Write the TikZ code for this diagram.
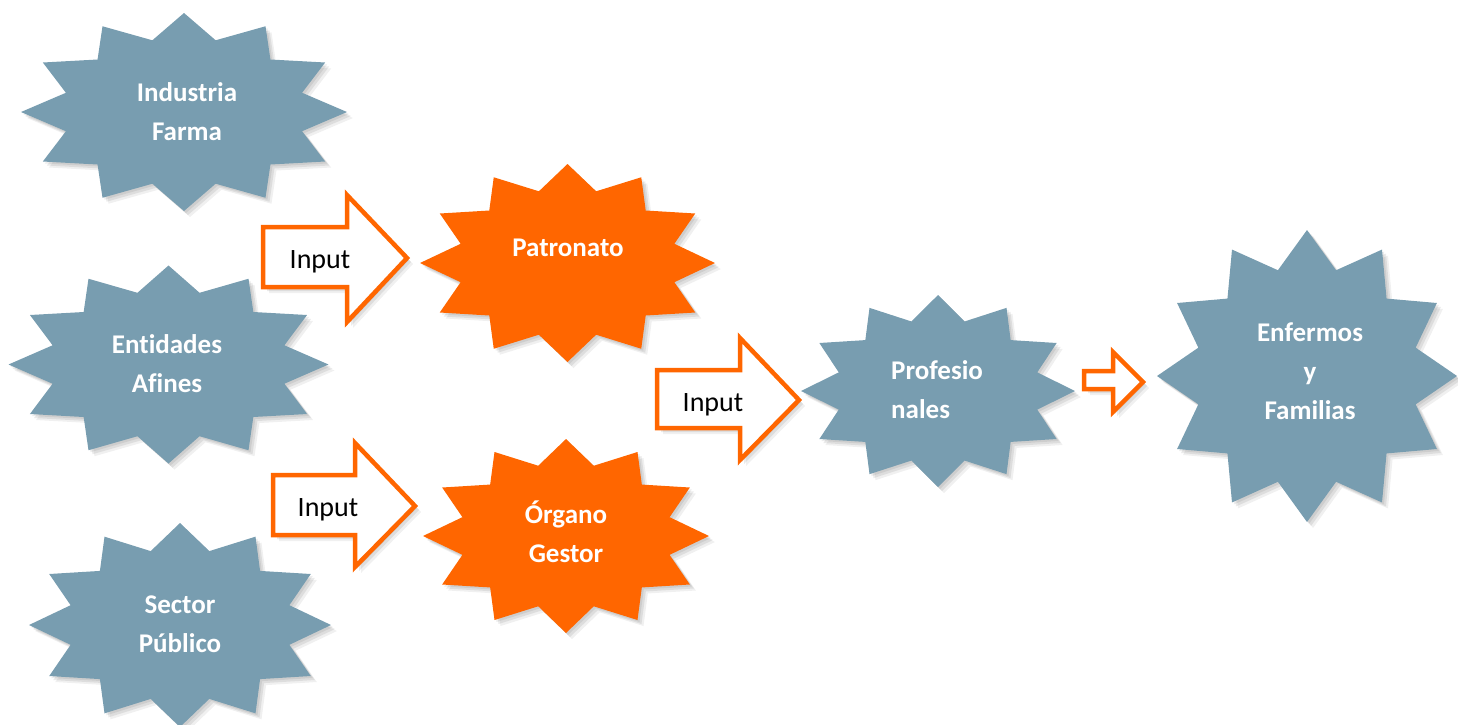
\documentclass[tikz,border=0pt]{standalone}
\usepackage{fontspec}
\setmainfont{Carlito}[Ligatures=NoCommon]
\definecolor{bluegrey}{HTML}{789DB0}
\definecolor{orng}{HTML}{FF6600}
\tikzset{
  startext/.style={text=white, font=\fontsize{27}{39}\selectfont\bfseries, align=center, inner sep=0pt},
  inputtext/.style={text=black, font=\fontsize{28}{32}\selectfont, inner sep=0pt, anchor=base},
  shadowlayer/.style={preaction={fill=black, opacity=#1}},
  softshadow/.style={
    preaction={fill=black, opacity=0.07, transform canvas={shift={(2pt,-2pt)}}},
    preaction={fill=black, opacity=0.08, transform canvas={shift={(4pt,-4pt)}}},
    preaction={fill=black, opacity=0.06, transform canvas={shift={(6pt,-6pt)}}}},
  blockarrow/.style={draw=orng, line width=4.5pt, fill=white, line join=miter, softshadow},
  bluestar/.style={fill=bluegrey, softshadow},
  orangestar/.style={fill=orng, softshadow},
}
% #1 name, #2 cx, #3 cy, #4 rx, #5 ry, #6 style
\newcommand\starshape[6]{%
  \path[#6] plot[samples at={0,15,...,345}, variable=\t]
    ({#2+(0.875+0.125*cos(12*\t))*#4*cos(\t)}, {#3+(0.875+0.125*cos(12*\t))*#5*sin(\t)}) -- cycle;
}
\begin{document}
\begin{tikzpicture}[x=1pt, y=-1pt]
\useasboundingbox (0,0) rectangle (1458,724);

% stars
\starshape{s1}{184}{112}{163}{99}{bluestar}
\starshape{s2}{168.5}{364.5}{160}{99}{bluestar}
\starshape{s3}{180}{625}{151}{102}{bluestar}
\starshape{s4}{567.5}{263}{147.5}{99}{orangestar}
\starshape{s5}{566}{536}{143}{97}{orangestar}
\starshape{s6}{938}{391}{137}{96}{bluestar}
\starshape{s7}{1307}{376}{150}{146}{bluestar}

\node[startext] (industria) at (187,112) {Industria\\Farma};
\node[startext] (entidades) at (167,364) {Entidades\\Afines};
\node[startext] (sector) at (180,624) {Sector\\Público};
\node[startext] (patronato) at (568,248) {Patronato};
\node[startext] (organo) at (566,532) {Órgano\\Gestor};
\node[startext, align=left, anchor=west] (profesionales) at (891,390) {Profesio\\nales};
\node[startext] (enfermos) at (1310,371) {Enfermos\\y\\Familias};

% block arrows
\draw[blockarrow] (263,227) -- (347,227) -- (347,195) -- (407,258) -- (347,322) -- (347,287) -- (263,287) -- cycle;
\node[inputtext] (in1) at (320,268) {Input};

\draw[blockarrow] (657,370) -- (740,370) -- (740,338) -- (799,400) -- (740,460) -- (740,428) -- (657,428) -- cycle;
\node[inputtext] (in2) at (713,411) {Input};

\draw[blockarrow] (273,475) -- (355,475) -- (355,443) -- (415,506) -- (355,567) -- (355,535) -- (273,535) -- cycle;
\node[inputtext] (in3) at (328,516) {Input};

\draw[blockarrow] (1084,371) -- (1113,371) -- (1113,352) -- (1143,382) -- (1113,412) -- (1113,389) -- (1084,389) -- cycle;
\end{tikzpicture}
\end{document}
